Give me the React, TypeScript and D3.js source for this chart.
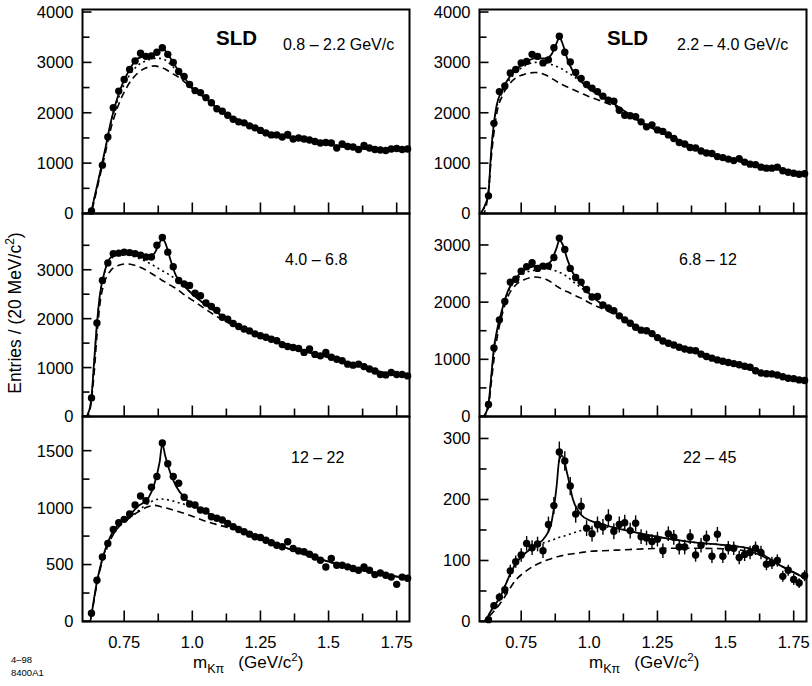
import * as d3 from "d3";
import React from "react";

// bin centres of the K-pi mass histograms (GeV/c^2)
const massBins = [
  0.63, 0.65, 0.67, 0.69, 0.71, 0.73, 0.75, 0.77, 0.79, 0.81, 0.83, 0.85, 0.87, 0.89, 0.91,
  0.93, 0.95, 0.97, 0.99, 1.01, 1.03, 1.05, 1.07, 1.09, 1.11, 1.13, 1.15, 1.17, 1.19, 1.21,
  1.23, 1.25, 1.27, 1.29, 1.31, 1.33, 1.35, 1.37, 1.39, 1.41, 1.43, 1.45, 1.47, 1.49, 1.51,
  1.53, 1.55, 1.57, 1.59, 1.61, 1.63, 1.65, 1.67, 1.69, 1.71, 1.73, 1.75, 1.77, 1.79,
];

// mass points where the fit curves are sampled
const fitMass = [
  0.6, 0.61, 0.62, 0.625, 0.63, 0.64, 0.65, 0.66, 0.68, 0.7, 0.73, 0.76, 0.8, 0.84, 0.86,
  0.88, 0.89, 0.9, 0.92, 0.94, 0.97, 1.0, 1.05, 1.1, 1.2, 1.3, 1.4, 1.5, 1.6, 1.7, 1.797,
];

const xMajorTicks = [0.75, 1.0, 1.25, 1.5, 1.75];
const xMinorTicks = [0.875, 1.125, 1.375, 1.625];
const xTickLabels = ["0.75", "1.0", "1.25", "1.5", "1.75"];

// 0.8 - 2.2 GeV/c
const entries1 = [
  50, null, 960, 1520, 2100, 2430, 2660, 2860, 3030, 3180, 3120, 3130, 3200, 3290, 3160,
  3000, 2820, 2720, 2560, 2440, 2400, 2300, 2200, 2080, 2030, 1950, 1870, 1820, 1800, 1740,
  1700, 1650, 1600, 1560, 1560, 1520, 1570, 1480, 1500, 1480, 1460, 1430, 1400, 1410, 1400,
  1300, 1380, 1330, 1320, 1270, 1350, 1300, 1270, 1260, 1250, 1280, 1290, 1270, 1280,
];
const fit1 = [0, 0, 0, 0, 60, 300, 540, 780, 1270, 1800, 2380, 2760, 3080, 3130, 3160, 3240, 3280, 3240, 3080, 2910, 2700, 2500, 2290, 2050, 1790, 1560, 1470, 1370, 1300, 1265, 1280];
const dotted1 = [0, 0, 0, 0, 55, 290, 520, 760, 1240, 1760, 2310, 2660, 2940, 3050, 3080, 3080, 3070, 3050, 2960, 2850, 2680, 2490, 2290, 2050, 1790, 1560, 1470, 1370, 1300, 1265, 1280];
const dashed1 = [0, 0, 0, 0, 40, 250, 480, 720, 1180, 1660, 2170, 2510, 2790, 2910, 2930, 2910, 2890, 2870, 2800, 2740, 2620, 2480, 2280, 2050, 1790, 1560, 1470, 1370, 1300, 1265, 1280];

// 2.2 - 4.0 GeV/c
const entries2 = [
  350, 1790, 2420, 2530, 2790, 2860, 2990, 3020, 3160, 3120, 2990, 3050, 3290, 3520, 3200,
  3010, 2800, 2680, 2560, 2490, 2420, 2330, 2250, 2230, 2050, 1950, 1940, 1920, 1820, 1720,
  1760, 1660, 1630, 1560, 1490, 1410, 1380, 1310, 1300, 1240, 1200, 1190, 1130, 1110, 1080,
  1050, 1090, 1020, 980, 970, 920, 900, 900, 920, 850, 820, 800, 780, 790,
];
const fit2 = [0, 80, 200, 280, 420, 1250, 1800, 2150, 2450, 2650, 2850, 2980, 3080, 3080, 3150, 3380, 3500, 3400, 3060, 2820, 2620, 2480, 2310, 2140, 1780, 1530, 1280, 1100, 975, 885, 790];
const dotted2 = [0, 70, 180, 260, 400, 1200, 1750, 2100, 2400, 2600, 2800, 2920, 3000, 2990, 2960, 2920, 2900, 2870, 2800, 2730, 2600, 2470, 2310, 2140, 1780, 1530, 1280, 1100, 975, 885, 790];
const dashed2 = [0, 0, 100, 250, 450, 1100, 1600, 1980, 2330, 2520, 2690, 2760, 2800, 2750, 2690, 2620, 2590, 2560, 2510, 2460, 2390, 2320, 2220, 2110, 1780, 1530, 1280, 1100, 975, 885, 790];

// 4.0 - 6.8
const entries3 = [
  380, 1910, 2780, 3140, 3330, 3340, 3360, 3350, 3330, 3300, 3260, 3260, 3500, 3660, 3360,
  3060, 2780, 2710, 2680, 2520, 2470, 2320, 2250, 2170, 2030, 1990, 1900, 1840, 1790, 1750,
  1690, 1650, 1620, 1580, 1550, 1470, 1430, 1410, 1390, 1310, 1380, 1270, 1240, 1310, 1210,
  1170, 1140, 1070, 1050, 1070, 1020, 970, 930, 860, 850, 900, 860, 860, 830,
];
const fit3 = [0, 0, 100, 200, 400, 1150, 1900, 2450, 3000, 3250, 3340, 3360, 3330, 3280, 3330, 3550, 3640, 3560, 3200, 2880, 2670, 2500, 2280, 2090, 1770, 1565, 1350, 1210, 1060, 900, 820];
const dotted3 = [0, 0, 90, 190, 380, 1120, 1870, 2420, 2980, 3220, 3300, 3300, 3240, 3140, 3080, 3010, 2980, 2950, 2880, 2810, 2670, 2500, 2280, 2090, 1770, 1565, 1350, 1210, 1060, 900, 820];
const dashed3 = [0, 0, 50, 150, 350, 900, 1650, 2250, 2780, 2980, 3090, 3120, 3070, 2960, 2890, 2820, 2780, 2750, 2680, 2620, 2490, 2380, 2190, 2010, 1760, 1565, 1350, 1210, 1060, 900, 820];

// 6.8 - 12
const entries4 = [
  210, 1200, 1690, 2010, 2350, 2400, 2540, 2620, 2690, 2590, 2630, 2630, 2780, 3120, 2920,
  2590, 2430, 2350, 2220, 2090, 2100, 1950, 1900, 1850, 1760, 1690, 1630, 1560, 1510, 1500,
  1450, 1380, 1320, 1280, 1250, 1210, 1180, 1160, 1150, 1090, 1050, 1020, 990, 966, 945,
  925, 905, 880, 860, 800, 760, 747, 745, 727, 695, 670, 662, 640, 630,
];
const fit4 = [0, 0, 60, 120, 220, 700, 1200, 1480, 1870, 2180, 2420, 2560, 2630, 2650, 2720, 2950, 3080, 3030, 2740, 2510, 2320, 2150, 1950, 1800, 1505, 1260, 1120, 950, 810, 705, 630];
const dotted4 = [0, 0, 55, 110, 200, 670, 1160, 1450, 1840, 2150, 2380, 2500, 2560, 2580, 2570, 2540, 2520, 2500, 2440, 2360, 2250, 2140, 1950, 1800, 1505, 1260, 1120, 950, 810, 705, 630];
const dashed4 = [0, 0, 40, 90, 170, 580, 1000, 1330, 1780, 2080, 2300, 2390, 2440, 2400, 2350, 2280, 2250, 2220, 2180, 2130, 2070, 1990, 1880, 1770, 1505, 1260, 1120, 950, 810, 705, 630];

// 12 - 22
const entries5 = [
  73, 362, 567, 685, 808, 867, 897, 944, 1023, 1102, 1061, 1179, 1273, 1567, 1385, 1273,
  1214, 1091, 1032, 1023, 979, 970, 920, 906, 891, 861, 832, 808, 788, 767, 744, 738, 714,
  691, 670, 656, 700, 641, 620, 612, 590, 567, 538, 479, 553, 494, 494, 480, 465, 450, 479,
  450, 412, 426, 406, 391, 326, 390, 380,
];
const fit5 = [0, 0, 0, 0, 60, 210, 350, 460, 630, 750, 860, 910, 1010, 1090, 1200, 1400, 1560, 1460, 1300, 1190, 1090, 1025, 960, 900, 780, 685, 600, 525, 460, 415, 375];
const dotted5 = [0, 0, 0, 0, 60, 205, 345, 455, 620, 740, 850, 900, 970, 1040, 1065, 1075, 1075, 1072, 1065, 1050, 1030, 1005, 960, 900, 780, 685, 600, 525, 460, 415, 375];
const dashed5 = [0, 0, 0, 0, 55, 195, 330, 440, 600, 720, 830, 890, 960, 1010, 1020, 1012, 1005, 1000, 985, 972, 950, 925, 880, 845, 778, 685, 600, 525, 460, 415, 375];

// 22 - 45
const entries6 = [
  3, 26, 40, 52, 83, 98, 109, 128, 121, 127, 116, 159, 190, 278, 263, 222, 176, 189, 153,
  144, 159, 155, 170, 148, 159, 162, 149, 161, 139, 137, 131, 135, 116, 144, 138, 122, 122,
  139, 109, 125, 137, 107, 143, 107, 121, 120, 105, 110, 113, 120, 113, 94, 96, 100, 74, 84,
  69, 63, 75,
];
const errors6 = [
  3, 6, 7, 8, 10, 10, 11, 12, 12, 12, 12, 13, 14, 17, 16, 15, 14, 14, 13, 13, 13, 13, 14, 13,
  13, 13, 13, 13, 12, 12, 12, 12, 12, 12, 12, 12, 12, 12, 11, 12, 12, 11, 12, 11, 11, 11, 11,
  11, 11, 11, 11, 10, 10, 10, 9, 9, 9, 8, 9,
];
const fit6 = [0, 0, 3, 6, 10, 18, 25, 31, 47, 68, 95, 110, 124, 140, 160, 222, 266, 272, 240, 200, 175, 166, 159, 153, 143, 135, 129, 125, 118, 92, 70];
const dotted6 = [0, 0, 3, 6, 10, 18, 25, 31, 47, 68, 95, 110, 124, 130, 133, 136, 138, 139, 142, 145, 149, 152, 155, 153, 143, 135, 129, 125, 118, 92, 70];
const dashed6 = [0, 0, 2, 4, 7, 12, 17, 22, 34, 48, 68, 80, 92, 100, 103, 106, 107, 108, 110, 111, 113, 115, 116, 117, 119, 120, 120, 119, 113, 92, 70];

const FONT = "'Liberation Sans', Arial, Helvetica, sans-serif";
const colX = [82.5, 479.5];
const rowY = [9.5, 213.5, 416.5, 621.5];
const panelW = 327;

interface PanelSpec {
  col: number;
  row: number;
  yMax: number;
  major: number[];
  minor: number[];
  entries: (number | null)[];
  errors?: number[];
  fit: number[];
  dotted: number[];
  dashed: number[];
  label: string;
  labelX: number;
  labelY: number;
  sld?: number;
}

const panels: PanelSpec[] = [
  { col: 0, row: 0, yMax: 4050, major: [0, 1000, 2000, 3000, 4000], minor: [500, 1500, 2500, 3500], entries: entries1, fit: fit1, dotted: dotted1, dashed: dashed1, label: "0.8 – 2.2 GeV/c", labelX: 283, labelY: 50, sld: 216 },
  { col: 1, row: 0, yMax: 4050, major: [0, 1000, 2000, 3000, 4000], minor: [500, 1500, 2500, 3500], entries: entries2, fit: fit2, dotted: dotted2, dashed: dashed2, label: "2.2 – 4.0 GeV/c", labelX: 677, labelY: 50, sld: 607 },
  { col: 0, row: 1, yMax: 4150, major: [0, 1000, 2000, 3000], minor: [500, 1500, 2500, 3500], entries: entries3, fit: fit3, dotted: dotted3, dashed: dashed3, label: "4.0 – 6.8", labelX: 285, labelY: 265 },
  { col: 1, row: 1, yMax: 3550, major: [0, 1000, 2000, 3000], minor: [500, 1500, 2500], entries: entries4, fit: fit4, dotted: dotted4, dashed: dashed4, label: "6.8 – 12", labelX: 679, labelY: 265 },
  { col: 0, row: 2, yMax: 1800, major: [0, 500, 1000, 1500], minor: [250, 750, 1250], entries: entries5, fit: fit5, dotted: dotted5, dashed: dashed5, label: "12 – 22", labelX: 291, labelY: 463 },
  { col: 1, row: 2, yMax: 336, major: [0, 100, 200, 300], minor: [50, 150, 250], entries: entries6, errors: errors6, fit: fit6, dotted: dotted6, dashed: dashed6, label: "22 – 45", labelX: 683, labelY: 463 },
];

const Panel = ({ p, idx }: { p: PanelSpec; idx: number }) => {
  const x0 = colX[p.col];
  const top = rowY[p.row];
  const bottom = rowY[p.row + 1];
  const x = d3.scaleLinear().domain([0.597, 1.797]).range([x0, x0 + panelW]);
  const y = d3.scaleLinear().domain([0, p.yMax]).range([bottom, top]);

  const curve = d3
    .line<number>()
    .x((_, i) => x(fitMass[i]))
    .y((d) => y(d))
    .curve(d3.curveMonotoneX);

  const clipId = `clip-${idx}`;
  const showXLabels = p.row === 2;

  return (
    <g>
      <defs>
        <clipPath id={clipId}>
          <rect x={x0} y={top} width={panelW} height={bottom - top} />
        </clipPath>
      </defs>

      <g clipPath={`url(#${clipId})`} fill="none" stroke="#000">
        <path d={curve(p.dashed) ?? ""} strokeWidth={1.6} strokeDasharray="7,4.5" />
        <path d={curve(p.dotted) ?? ""} strokeWidth={1.6} strokeDasharray="2,3.5" />
        <path d={curve(p.fit) ?? ""} strokeWidth={1.8} />
      </g>

      {p.errors &&
        p.entries.map((v, i) =>
          v == null ? null : (
            <line
              key={`e${i}`}
              x1={x(massBins[i])}
              x2={x(massBins[i])}
              y1={y(Math.max(0, v - p.errors![i]))}
              y2={y(v + p.errors![i])}
              stroke="#000"
              strokeWidth={1.4}
            />
          )
        )}
      {p.entries.map((v, i) =>
        v == null ? null : <circle key={`d${i}`} cx={x(massBins[i])} cy={y(v)} r={3.7} fill="#000" />
      )}

      {/* frame */}
      <rect x={x0} y={top} width={panelW} height={bottom - top} fill="none" stroke="#000" strokeWidth={2} />

      {/* x ticks pointing inward */}
      {xMajorTicks.map((t) => (
        <line key={`xm${t}`} x1={x(t)} x2={x(t)} y1={bottom} y2={bottom - 11} stroke="#000" strokeWidth={1.6} />
      ))}
      {xMinorTicks.map((t) => (
        <line key={`xn${t}`} x1={x(t)} x2={x(t)} y1={bottom} y2={bottom - 8} stroke="#000" strokeWidth={1.6} />
      ))}

      {/* y ticks */}
      {p.major.map((t) => (
        <line key={`ym${t}`} x1={x0} x2={x0 + 9} y1={y(t)} y2={y(t)} stroke="#000" strokeWidth={1.6} />
      ))}
      {p.minor.map((t) => (
        <line key={`yn${t}`} x1={x0} x2={x0 + 7} y1={y(t)} y2={y(t)} stroke="#000" strokeWidth={1.6} />
      ))}
      {p.major.map((t) => (
        <text
          key={`yl${t}`}
          x={x0 - 9}
          y={y(t)}
          dy="0.36em"
          textAnchor="end"
          fontSize={16.5}
          fontFamily={FONT}
        >
          {t}
        </text>
      ))}

      {showXLabels &&
        xMajorTicks.map((t, i) => (
          <text key={`xl${t}`} x={x(t)} y={648} textAnchor="middle" fontSize={16.5} fontFamily={FONT}>
            {xTickLabels[i]}
          </text>
        ))}

      {p.sld != null && (
        <text x={p.sld} y={45} fontSize={20.5} fontWeight="bold" fontFamily={FONT}>
          SLD
        </text>
      )}
      <text x={p.labelX} y={p.labelY} fontSize={16} fontFamily={FONT}>
        {p.label}
      </text>
    </g>
  );
};

const MassTitle = ({ x0 }: { x0: number }) => (
  <text x={x0} y={668} fontSize={17} fontFamily={FONT}>
    m
    <tspan fontSize={12.5} dy={5}>
      Kπ
    </tspan>
    <tspan dy={-5} xmlSpace="preserve">
      {"   (GeV/c"}
    </tspan>
    <tspan fontSize={11.5} dy={-7}>
      2
    </tspan>
    <tspan dy={7}>)</tspan>
  </text>
);

export default function App() {
  return (
    <svg
      width={812}
      height={686}
      viewBox="0 0 812 686"
      style={{ position: "absolute", left: 0, top: 0, background: "#fff" }}
    >
      <rect width={812} height={686} fill="#fff" />
      {panels.map((p, i) => (
        <Panel key={i} p={p} idx={i} />
      ))}

      <text
        transform="translate(21,313) rotate(-90)"
        textAnchor="middle"
        fontSize={17.5}
        fontFamily={FONT}
      >
        Entries / (20 MeV/c
        <tspan fontSize={12} dy={-7}>
          2
        </tspan>
        <tspan dy={7}>)</tspan>
      </text>

      <MassTitle x0={193} />
      <MassTitle x0={589} />

      <text x={11} y={663} fontSize={9.5} fontFamily={FONT}>
        4–98
      </text>
      <text x={11} y={676} fontSize={9.5} fontFamily={FONT}>
        8400A1
      </text>
    </svg>
  );
}
